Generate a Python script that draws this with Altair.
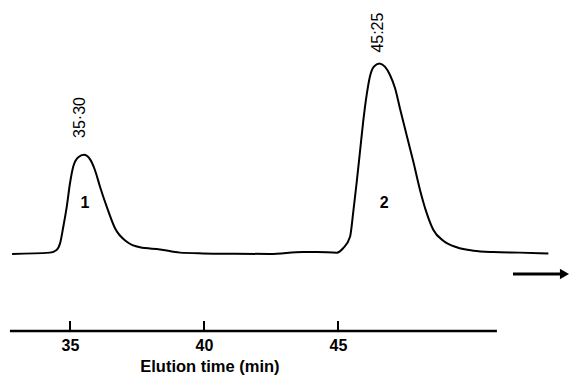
import altair as alt
import pandas as pd

# Chromatogram trace (elution time in min, detector signal in arbitrary units)
curve_t = [32.84, 34.25, 34.50, 34.63, 34.75, 34.88, 35.00, 35.12, 35.31, 35.52,
           35.75, 35.93, 36.12, 36.37, 36.68, 37.12, 37.61, 38.36, 39.10, 39.96,
           41.20, 42.46, 43.69, 44.21, 44.96, 45.19, 45.45, 45.57, 45.70, 45.82,
           45.94, 46.07, 46.19, 46.34, 46.54, 46.75, 46.94, 47.13, 47.31, 47.56,
           47.81, 48.06, 48.31, 48.56, 48.93, 49.43, 50.05, 50.79, 51.79, 52.85]
curve_s = [-0.5, 0.2, 1.6, 5.1, 13.8, 24.4, 36.7, 45.4, 50.4, 51.7,
           49.3, 43.7, 34.9, 24.4, 13.0, 5.9, 3.0, 1.9, 0.2, -0.2,
           -0.4, -0.5, 0.5, 0.5, 0.2, 2.5, 8.6, 21.7, 37.5, 53.3,
           69.1, 83.2, 92.8, 98.1, 99.8, 98.1, 93.7, 86.7, 76.2, 62.1,
           48.1, 33.2, 21.0, 12.1, 6.5, 3.0, 1.2, 0.5, 0.2, -0.2]

tick_values = [35, 40, 45]
axis_start, axis_end = 32.76, 50.93

x_title = "Elution time (min)"
x_title_t, x_title_s = 40.22, -62.6

peak_times = ["35·30", "45:25"]
peak_time_t = [35.39, 46.49]
peak_time_s = [71.3, 116.0]

peak_ids = ["1", "2"]
peak_id_t = [35.56, 46.72]
peak_id_s = [26.3, 26.3]

arrow_t = [51.53, 53.30]
arrow_head_t = 53.45
arrow_s = -11.05

X_DOMAIN = [32.687, 53.657]
Y_DOMAIN = [-41.05, 128.95]
AXIS_S = -41.05
TICK_TOP = -35.79

xscale = alt.Scale(domain=X_DOMAIN, nice=False, zero=False)
yscale = alt.Scale(domain=Y_DOMAIN, nice=False, zero=False)
xaxis = alt.Axis(values=tick_values, domain=False, ticks=False, tickSize=0, grid=False,
                 labelFont="Liberation Sans", labelFontSize=16, labelFontWeight="bold",
                 labelColor="black", labelBaseline="alphabetic", labelPadding=19,
                 title=None)


def X(field):
    return alt.X(field, type="quantitative", scale=xscale, axis=xaxis)


def Y(field):
    return alt.Y(field, type="quantitative", scale=yscale, axis=None)


curve_df = pd.DataFrame({"t": curve_t, "s": curve_s})
line = alt.Chart(curve_df).mark_line(color="black", strokeWidth=2, interpolate="monotone").encode(
    x=X("t"), y=Y("s"))

axis_df = pd.DataFrame({"t": [axis_start], "t2": [axis_end], "s": [AXIS_S]})
axis_line = alt.Chart(axis_df).mark_rule(color="black", strokeWidth=2.5).encode(
    x=X("t"), x2="t2", y=Y("s"))

ticks_df = pd.DataFrame({"t": tick_values, "s": [AXIS_S] * 3, "s2": [TICK_TOP] * 3})
ticks = alt.Chart(ticks_df).mark_rule(color="black", strokeWidth=2).encode(
    x=X("t"), y=Y("s"), y2="s2")

arrow_df = pd.DataFrame({"t": [arrow_t[0]], "t2": [arrow_t[1]], "s": [arrow_s]})
arrow_shaft = alt.Chart(arrow_df).mark_rule(color="black", strokeWidth=3).encode(
    x=X("t"), x2="t2", y=Y("s"))
head_df = pd.DataFrame({"t": [arrow_head_t], "s": [arrow_s]})
arrow_head = alt.Chart(head_df).mark_point(shape="triangle-right", filled=True, color="black",
                                           size=110, opacity=1).encode(x=X("t"), y=Y("s"))

title_df = pd.DataFrame({"t": [x_title_t], "s": [x_title_s], "label": [x_title]})
title_text = alt.Chart(title_df).mark_text(font="Liberation Sans", fontSize=16.5, fontWeight="bold",
                                           color="black", align="center",
                                           baseline="alphabetic").encode(
    x=X("t"), y=Y("s"), text="label")

pt_df = pd.DataFrame({"t": peak_time_t, "s": peak_time_s, "label": peak_times})
peak_time_text = alt.Chart(pt_df).mark_text(angle=270, font="Liberation Sans", fontSize=16,
                                            color="black", align="center", baseline="middle").encode(
    x=X("t"), y=Y("s"), text="label")

pid_df = pd.DataFrame({"t": peak_id_t, "s": peak_id_s, "label": peak_ids})
peak_id_text = alt.Chart(pid_df).mark_text(font="Liberation Sans", fontSize=16, fontWeight="bold",
                                           color="black", align="center", baseline="middle").encode(
    x=X("t"), y=Y("s"), text="label")

chart = alt.layer(line, axis_line, ticks, arrow_shaft, arrow_head, title_text,
                  peak_time_text, peak_id_text).properties(
    width=562, height=323,
    autosize=alt.AutoSizeParams(type="none"),
    padding={"left": 0, "top": 0, "right": 0, "bottom": 44},
).configure(background="white").configure_view(stroke=None)

chart.save("out.html", embed_options={"renderer": "svg", "actions": False})
